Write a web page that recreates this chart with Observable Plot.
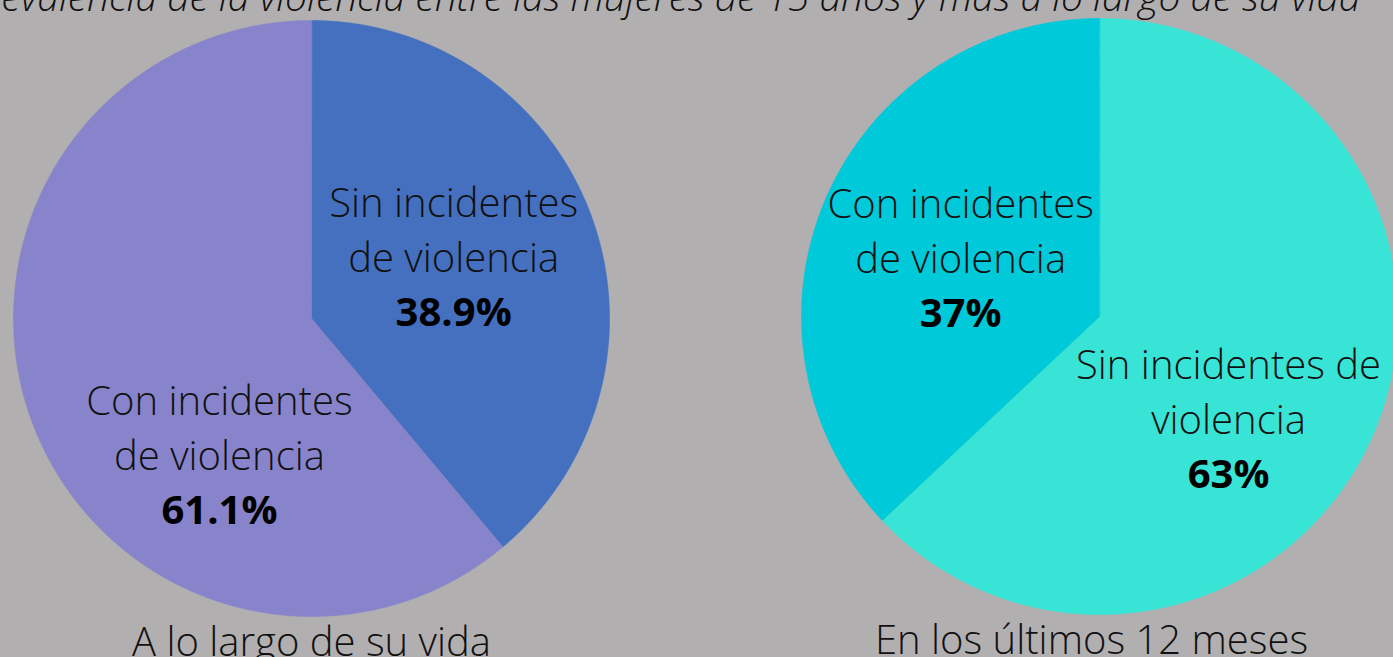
<!DOCTYPE html>
<html>
<head>
<meta charset="utf-8">
<script src="https://cdn.jsdelivr.net/npm/d3@7"></script>
<script src="https://cdn.jsdelivr.net/npm/@observablehq/plot@0.6"></script>
<style>
  html, body { margin: 0; padding: 0; background: #b1afb0; overflow: hidden; }
  #chart svg { display: block; overflow: hidden; }
</style>
</head>
<body>
<div id="chart"></div>
<script>
// ---- data ----
const titleText = "Prevalencia de la violencia entre las mujeres de 15 años y más a lo largo de su vida";
const pieNames = ["A lo largo de su vida", "En los últimos 12 meses"];
const categories = ["Sin incidentes de violencia", "Con incidentes de violencia"];
const lifetimeValues = [38.9, 61.1];
const last12Values = [63, 37];
const lifetimeLabels = ["Sin incidentes\nde violencia", "Con incidentes\nde violencia"];
const last12Labels = ["Sin incidentes de\nviolencia", "Con incidentes\nde violencia"];
const lifetimeValueText = ["38.9%", "61.1%"];
const last12ValueText = ["63%", "37%"];

// ---- layout / style ----
const W = 1393, H = 657, R = 298;
const centers = [[311, 318], [1099, 316]];
const subtitleShift = [0, -8];
const colors = [["#4470bf", "#8884cb"], ["#38e4d5", "#00c9da"]];
// label anchor (middle line) offsets in radius units, y up
const labelPos = [[[0.477, 0.201], [-0.309, -0.463]], [[0.433, -0.349], [-0.466, 0.191]]];
const cy0 = 317;
const toX = px => (px - centers[0][0]) / R;
const toY = py => (cy0 - py) / R;

const series = [
  {name: pieNames[0], values: lifetimeValues, labels: lifetimeLabels, vtext: lifetimeValueText},
  {name: pieNames[1], values: last12Values, labels: last12Labels, vtext: last12ValueText}
];

const polys = [];
const labels = [];
const subtitles = [];
series.forEach((s, i) => {
  const cx = toX(centers[i][0]), cy = toY(centers[i][1]);
  const arcs = d3.pie().sort(null).value(d => d)(s.values);
  arcs.forEach((a, j) => {
    const key = i + "-" + j;
    polys.push({key, x: cx, y: cy, color: colors[i][j], cat: categories[j]});
    const n = Math.max(2, Math.ceil((a.endAngle - a.startAngle) / 0.005));
    for (let k = 0; k <= n; k++) {
      const t = a.startAngle + (a.endAngle - a.startAngle) * k / n;
      polys.push({key, x: cx + Math.sin(t), y: cy + Math.cos(t), color: colors[i][j], cat: categories[j]});
    }
    labels.push({x: cx + labelPos[i][j][0], y: cy + labelPos[i][j][1], text: s.labels[j], value: s.vtext[j]});
  });
  subtitles.push({x: cx + subtitleShift[i] / R, y: cy - 1, text: s.name});
});

const chart = Plot.plot({
  width: W,
  height: H,
  margin: 0,
  x: {domain: [toX(0), toX(W)], axis: null},
  y: {domain: [toY(H), toY(0)], axis: null},
  color: {type: "identity"},
  style: {background: "#b1afb0", fontFamily: "'Open Sans', sans-serif", color: "#000"},
  marks: [
    Plot.line(polys, {x: "x", y: "y", z: "key", fill: "color", stroke: "color", strokeWidth: 0.6, curve: "linear-closed"}),
    Plot.text(labels, {x: "x", y: "y", text: "text", fontSize: 40, fontWeight: 300, lineHeight: 1.375, lineAnchor: "middle", dy: -31.5, fill: "#111"}),
    Plot.text(labels, {x: "x", y: "y", text: "value", fontSize: 40, fontWeight: 700, lineAnchor: "middle", dy: 55, fill: "#000"}),
    Plot.text(subtitles, {x: "x", y: "y", text: "text", fontSize: 40, fontWeight: 300, lineAnchor: "middle", dy: 27, fill: "#111"}),
    Plot.text([titleText], {frameAnchor: "top-right", text: d => d, textAnchor: "end", fontSize: 39, fontWeight: 300, fontStyle: "italic", lineAnchor: "middle", dx: -33, dy: -2, fill: "#111"})
  ]
});
document.getElementById("chart").appendChild(chart);
</script>
</body>
</html>
